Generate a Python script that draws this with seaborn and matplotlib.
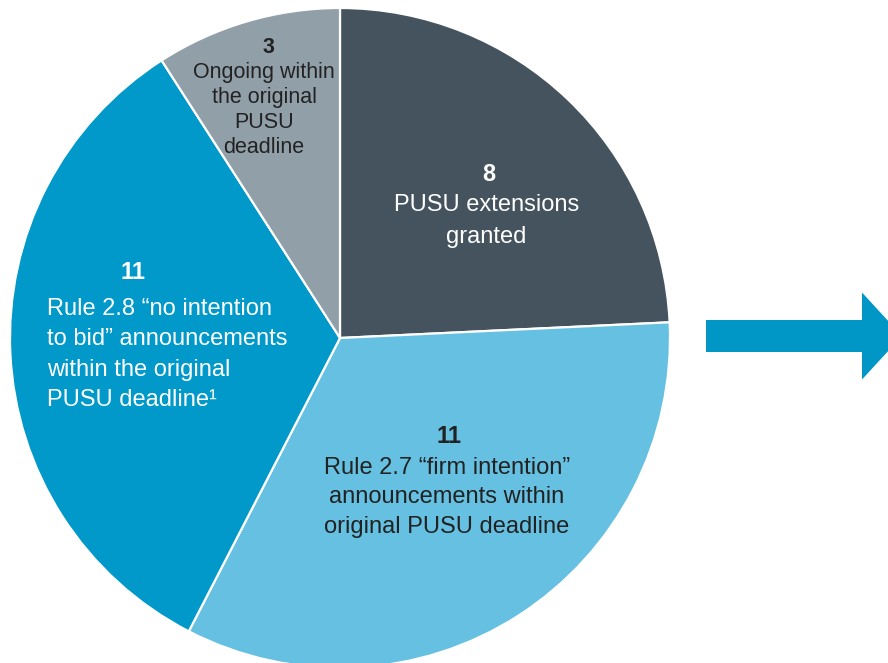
import matplotlib
matplotlib.use("Agg")
import matplotlib.pyplot as plt
import seaborn as sns
from matplotlib.patches import FancyArrow
from matplotlib.transforms import IdentityTransform

# slice data, clockwise from 12 o'clock
counts = [8, 11, 11, 3]
numbers = ["8", "11", "11", "3"]
descriptions = [
    "PUSU extensions\ngranted",
    "Rule 2.7 \u201cfirm intention\u201d\nannouncements within\noriginal PUSU deadline",
    "Rule 2.8 \u201cno intention\nto bid\u201d announcements\nwithin the original\nPUSU deadline\u00b9",
    "Ongoing within\nthe original\nPUSU\ndeadline",
]
colors = ["#44535e", "#66c0e1", "#0099c9", "#919fa9"]
text_colors = ["white", "#222222", "white", "#222222"]

# label layout (pie data coords)
num_pos = [(0.452, 0.494), (0.330, -0.297), (-0.627, 0.197), (-0.218, 0.880)]
desc_pos = [(0.443, 0.355), (0.324, -0.482), (-0.888, -0.050), (-0.230, 0.691)]
desc_ha = ["center", "center", "left", "center"]
sizes = [17, 17, 17, 15.5]
spacing = [1.55, 1.44, 1.50, 1.24]

sns.set_theme(style="white")
plt.rcParams["font.family"] = ["Liberation Sans", "DejaVu Sans"]

W, H = 888, 663
fig = plt.figure(figsize=(W / 100, H / 100), dpi=100)
fig.patch.set_facecolor("white")

cx, cy, r = 340, 338, 330
ax = fig.add_axes([(cx - r) / W, (H - cy - r) / H, 2 * r / W, 2 * r / H])
ax.pie(counts, colors=colors, startangle=90, counterclock=False, radius=1,
       wedgeprops=dict(edgecolor="white", linewidth=1.6))
ax.set_xlim(-1, 1)
ax.set_ylim(-1, 1)
ax.set_aspect("equal")
ax.axis("off")

for i in range(len(counts)):
    ax.text(*num_pos[i], numbers[i], ha="center", va="center", fontsize=sizes[i],
            fontweight="bold", color=text_colors[i])
    ax.text(*desc_pos[i], descriptions[i], ha=desc_ha[i], va="center",
            fontsize=sizes[i], color=text_colors[i], linespacing=spacing[i],
            multialignment=desc_ha[i])

# arrow on the right, pixel coords
arrow = FancyArrow(706, H - 336, 196, 0, width=32, head_width=87, head_length=40,
                   length_includes_head=True, color="#0096c6", linewidth=0,
                   transform=IdentityTransform())
fig.add_artist(arrow)

fig.savefig("out.png", dpi=100, facecolor="white")
